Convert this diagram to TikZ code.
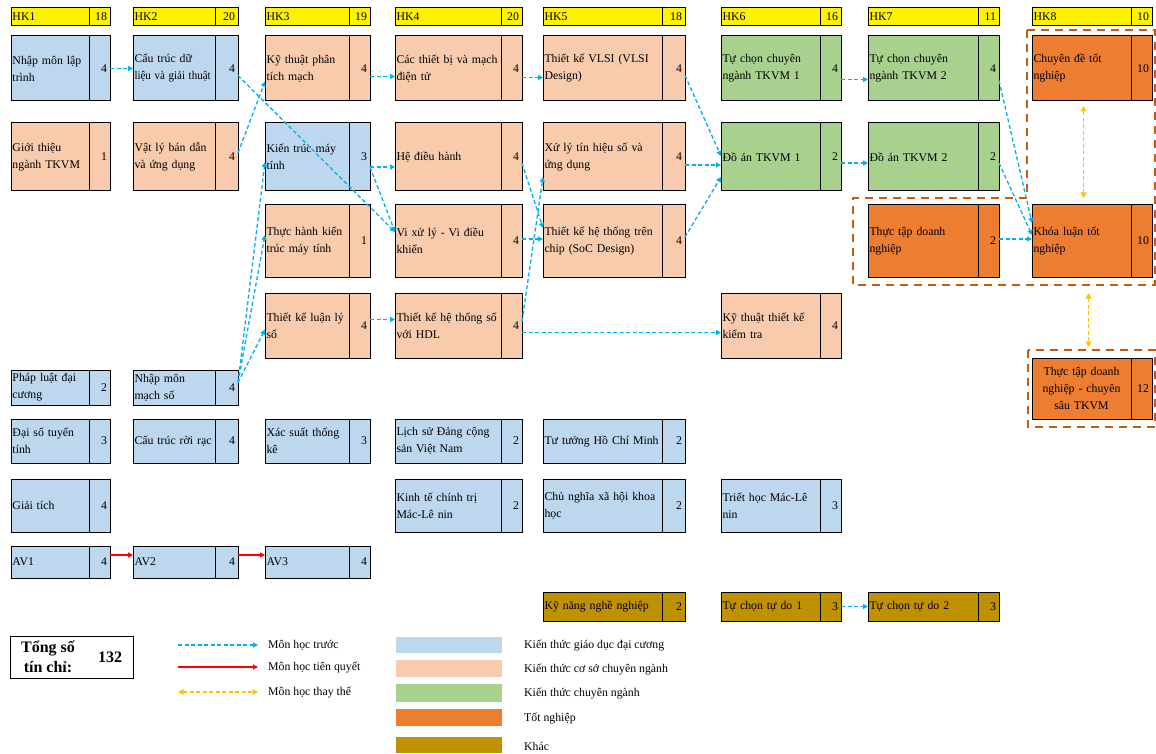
\documentclass[tikz,border=0pt]{standalone}
\usepackage{fontspec}
\setmainfont{Liberation Serif}
\usepackage{graphicx}
\usetikzlibrary{arrows.meta}
\usepackage{xcolor}

\definecolor{cgdc}{HTML}{BDD7EE}
\definecolor{ccsn}{HTML}{F8CBAD}
\definecolor{ccn}{HTML}{A9D18E}
\definecolor{ctn}{HTML}{ED7D31}
\definecolor{ckhac}{HTML}{BF9000}
\definecolor{cprev}{HTML}{00B0F0}
\definecolor{calt}{HTML}{FFC000}
\definecolor{cframe}{HTML}{C55A11}

\newcommand\cellfont{\fontsize{11.8}{17}\selectfont}

\tikzset{
  namecell/.style={draw, line width=1pt, anchor=north west, outer sep=0pt,
    inner xsep=1.5pt, inner ysep=0pt, align=left, font=\cellfont},
  numcell/.style={draw, line width=1pt, anchor=north west, outer sep=0pt,
    inner xsep=3pt, inner ysep=0pt, align=right, font=\cellfont},
  prev/.style={cprev, line width=1.3pt, dash pattern=on 4pt off 2.5pt,
    -{Triangle[length=5pt,width=5pt]}},
  preq/.style={red, line width=1.1pt, -{Triangle[length=5pt,width=5pt]}},
  alt/.style={calt, line width=1.6pt, dash pattern=on 4pt off 2.5pt,
    {Triangle[length=5.5pt,width=5.5pt]}-{Triangle[length=5.5pt,width=5.5pt]}},
  frame/.style={cframe, line width=2.5pt, dash pattern=on 8pt off 6pt},
  swatch/.style={anchor=north west, minimum width=106pt, inner sep=0pt},
  legtext/.style={anchor=west, inner sep=0pt, font=\cellfont},
}

% column edges: left, divider, right
\newcommand\setcol[4]{%
  \expandafter\def\csname cl#1\endcsname{#2}%
  \expandafter\def\csname cd#1\endcsname{#3}%
  \expandafter\def\csname cr#1\endcsname{#4}}
\setcol{1}{11}{89}{110}
\setcol{2}{133}{215}{238}
\setcol{3}{265}{349}{370}
\setcol{4}{395}{501}{522}
\setcol{5}{543}{662}{685}
\setcol{6}{721}{820}{841}
\setcol{7}{868}{978}{999}
\setcol{8}{1032}{1131}{1152}

% id, column, top, bottom, colour, text, credits
\newcommand\course[7]{%
  \pgfmathsetmacro\xl{\csname cl#2\endcsname}%
  \pgfmathsetmacro\cw{\csname cd#2\endcsname-\csname cl#2\endcsname}%
  \pgfmathsetmacro\tw{\cw-3}%
  \pgfmathsetmacro\nw{\csname cr#2\endcsname-\csname cd#2\endcsname}%
  \pgfmathsetmacro\nt{\nw-6}%
  \pgfmathsetmacro\ch{#4-#3}%
  \node[namecell, fill=#5, minimum width=\cw pt, text width=\tw pt,
    minimum height=\ch pt] (#1) at (\xl,#3) {#6};
  \node[numcell, fill=#5, minimum width=\nw pt, text width=\nt pt,
    minimum height=\ch pt] (#1-n) at (#1.north east) {#7};}

\begin{document}
\begin{tikzpicture}[x=1pt,y=-1pt]
\useasboundingbox (0,0) rectangle (1156,754);

% semester headers
\course{hk1}{1}{8}{26}{yellow}{HK1}{18}
\course{hk2}{2}{8}{26}{yellow}{HK2}{20}
\course{hk3}{3}{8}{26}{yellow}{HK3}{19}
\course{hk4}{4}{8}{26}{yellow}{HK4}{20}
\course{hk5}{5}{8}{26}{yellow}{HK5}{18}
\course{hk6}{6}{8}{26}{yellow}{HK6}{16}
\course{hk7}{7}{8}{26}{yellow}{HK7}{11}
\course{hk8}{8}{8}{26}{yellow}{HK8}{10}

% HK1
\course{nmlt}{1}{36}{101}{cgdc}{Nhập môn lập\\trình}{4}
\course{gtn}{1}{123}{191}{ccsn}{Giới thiệu\\ngành TKVM}{1}
\course{pldc}{1}{370}{405}{cgdc}{Pháp luật đại\\cương}{2}
\course{dstt}{1}{419}{463}{cgdc}{Đại số tuyến\\tính}{3}
\course{gt}{1}{479}{532}{cgdc}{Giải tích}{4}
\course{av1}{1}{546}{578}{cgdc}{AV1}{4}
% HK2
\course{ctdl}{2}{36}{101}{cgdc}{Cấu trúc dữ\\\scalebox{0.93}[1]{liệu và giải thuật}}{4}
\course{vlbd}{2}{123}{191}{ccsn}{Vật lý bán dẫn\\và ứng dụng}{4}
\course{nmms}{2}{370}{405}{cgdc}{Nhập môn\\mạch số}{4}
\course{ctrr}{2}{419}{463}{cgdc}{Cấu~trúc~rời~rạc}{4}
\course{av2}{2}{546}{578}{cgdc}{AV2}{4}
% HK3
\course{ktptm}{3}{36}{101}{ccsn}{Kỹ thuật phân\\tích mạch}{4}
\course{ktmt}{3}{123}{191}{cgdc}{Kiến trúc máy\\tính}{3}
\course{thktmt}{3}{205}{277}{ccsn}{Thực hành kiến\\trúc máy tính}{1}
\course{tklls}{3}{293}{358}{ccsn}{Thiết kế luận lý\\số}{4}
\course{xstk}{3}{419}{463}{cgdc}{Xác suất thống\\kê}{3}
\course{av3}{3}{546}{578}{cgdc}{AV3}{4}
% HK4
\course{ctbi}{4}{36}{101}{ccsn}{Các thiết bị và mạch\\điện tử}{4}
\course{hdh}{4}{123}{191}{ccsn}{Hệ điều hành}{4}
\course{vxl}{4}{205}{277}{ccsn}{Vi xử lý - Vi điều\\khiển}{4}
\course{tkhts}{4}{293}{358}{ccsn}{Thiết kế hệ thống số\\với HDL}{4}
\course{lsd}{4}{419}{463}{cgdc}{Lịch sử Đảng cộng\\sản Việt Nam}{2}
\course{ktct}{4}{479}{532}{cgdc}{Kinh tế chính trị\\Mác-Lê nin}{2}
% HK5
\course{vlsi}{5}{36}{101}{ccsn}{Thiết kế VLSI (VLSI\\Design)}{4}
\course{xlts}{5}{123}{191}{ccsn}{Xử lý tín hiệu số và\\ứng dụng}{4}
\course{soc}{5}{205}{277}{ccsn}{Thiết kế hệ thống trên\\chip (SoC Design)}{4}
\course{tthcm}{5}{419}{463}{cgdc}{Tư tưởng Hồ Chí Minh}{2}
\course{cnxh}{5}{479}{532}{cgdc}{Chủ nghĩa xã hội khoa\\học}{2}
\course{knnn}{5}{592}{621}{ckhac}{Kỹ năng nghề nghiệp}{2}
% HK6
\course{tccn1}{6}{36}{101}{ccn}{Tự chọn chuyên\\ngành TKVM 1}{4}
\course{da1}{6}{123}{191}{ccn}{Đồ án TKVM 1}{2}
\course{kttk}{6}{293}{358}{ccsn}{Kỹ thuật thiết kế\\kiểm tra}{4}
\course{thml}{6}{479}{532}{cgdc}{Triết học Mác-Lê\\nin}{3}
\course{tctd1}{6}{592}{621}{ckhac}{Tự chọn tự do 1}{3}
% HK7
\course{tccn2}{7}{36}{101}{ccn}{Tự chọn chuyên\\ngành TKVM 2}{4}
\course{da2}{7}{123}{191}{ccn}{Đồ án TKVM 2}{2}
\course{ttdn}{7}{205}{277}{ctn}{Thực tập doanh\\nghiệp}{2}
\course{tctd2}{7}{592}{621}{ckhac}{Tự chọn tự do 2}{3}
% HK8
\course{cdtn}{8}{36}{101}{ctn}{Chuyên đề tốt\\nghiệp}{10}
\course{kltn}{8}{205}{277}{ctn}{Khóa luận tốt\\nghiệp}{10}
\node[namecell, fill=ctn, minimum width=99pt, text width=96pt, minimum height=61pt,
  align=center] (ttcs) at (1032,358) {Thực tập doanh\\nghiệp - chuyên\\sâu TKVM};
\node[numcell, fill=ctn, minimum width=21pt, text width=15pt, minimum height=61pt]
  (ttcs-n) at (ttcs.north east) {12};

% graduation options
\draw[frame] (1027,30) -- (1155,30) -- (1155,285) -- (853,285) -- (853,198)
  -- (1027,198) -- cycle;
\draw[frame] (1028,350) rectangle (1155,427);

% prerequisites
\draw[prev] (nmlt-n.east) -- (ctdl.west);
\draw[prev] ([yshift=-7pt]ctdl-n.east) -- ([yshift=9pt]vxl.west);
\draw[prev] ([yshift=4pt]vlbd-n.east) -- ([yshift=-13pt]ktptm.west);
\draw[prev] ([yshift=-8pt]ktptm-n.east) -- ([yshift=-8pt]ctbi.west);
\draw[prev] ([yshift=-9pt]ctbi-n.east) -- ([yshift=-9pt]vlsi.west);
\draw[prev] ([yshift=-10pt]ktmt-n.east) -- ([yshift=-10pt]hdh.west);
\draw[prev] ([yshift=-10pt]ktmt-n.east) -- ([yshift=9pt]vxl.west);
\draw[prev] ([yshift=5pt]nmms-n.east) -- ([yshift=-5pt]ktmt.west);
\draw[prev] ([yshift=5pt]nmms-n.east) -- ([yshift=6pt]thktmt.west);
\draw[prev] ([yshift=5pt]nmms-n.east) -- ([yshift=-4pt]tklls.west);
\draw[prev] ([yshift=6pt]tklls-n.east) -- ([yshift=6pt]tkhts.west);
\draw[prev] ([yshift=-6pt]hdh-n.east) -- ([yshift=13pt]soc.west);
\draw[prev] ([yshift=2pt]vxl-n.east) -- ([yshift=2pt]soc.west);
\draw[prev] ([yshift=4pt]tkhts-n.east) -- ([yshift=-20pt]xlts.west);
\draw[prev] ([yshift=-7pt]tkhts-n.east) -- ([yshift=-7pt]kttk.west);
\draw[prev] ([yshift=-7pt]vlsi-n.east) -- ([yshift=1pt]da1.west);
\draw[prev] ([yshift=-8pt]xlts-n.east) -- ([yshift=-8pt]da1.west);
\draw[prev] ([yshift=4pt]soc-n.east) -- ([yshift=-20pt]da1.west);
\draw[prev] ([yshift=-11pt]tccn1-n.east) -- ([yshift=-11pt]tccn2.west);
\draw[prev] ([yshift=-6pt]da1-n.east) -- ([yshift=-6pt]da2.west);
\draw[prev] ([yshift=-12pt]tccn2-n.east) -- ([yshift=18pt]kltn.west);
\draw[prev] ([yshift=-6pt]da2-n.east) -- ([yshift=6pt]kltn.west);
\draw[prev] ([yshift=2pt]ttdn-n.east) -- ([yshift=2pt]kltn.west);
\draw[prev] (tctd1-n.east) -- (tctd2.west);
\draw[preq] ([yshift=7pt]av1-n.east) -- ([yshift=7pt]av2.west);
\draw[preq] ([yshift=7pt]av2-n.east) -- ([yshift=7pt]av3.west);
\draw[alt] ([xshift=2pt,yshift=-5pt]cdtn.south) -- ([xshift=2pt,yshift=7pt]kltn.north);
\draw[alt] ([xshift=7pt,yshift=-16pt]kltn.south) -- ([xshift=7pt,yshift=11pt]ttcs.north);

% legend
\node[draw, line width=1pt, anchor=north west, minimum width=123pt, minimum height=42pt,
  inner sep=0pt] (tong) at (10,636) {};
\node[font=\bfseries\fontsize{16}{19.5}\selectfont, align=center, inner sep=0pt]
  (tongtxt) at (48,657) {Tổng số\\tín chỉ:};
\node[font=\bfseries\fontsize{16}{19.5}\selectfont, inner sep=0pt] (tongso) at (110,657) {132};

\coordinate (lpA) at (178,645); \coordinate (lpB) at (258,645);
\coordinate (lqA) at (178,667); \coordinate (lqB) at (258,667);
\coordinate (laA) at (178,692); \coordinate (laB) at (258,692);
\draw[prev] (lpA) -- (lpB);
\draw[preq] (lqA) -- (lqB);
\draw[alt] (laA) -- (laB);
\node[legtext] (lpT) at (268,645) {Môn học trước};
\node[legtext] (lqT) at (268,667) {Môn học tiên quyết};
\node[legtext] (laT) at (268,692) {Môn học thay thế};

\node[swatch, fill=cgdc, minimum height=16pt] (sw1) at (396,637) {};
\node[swatch, fill=ccsn, minimum height=17pt] (sw2) at (396,660) {};
\node[swatch, fill=ccn, minimum height=18pt] (sw3) at (396,684) {};
\node[swatch, fill=ctn, minimum height=17pt] (sw4) at (396,709) {};
\node[swatch, fill=ckhac, minimum height=16pt] (sw5) at (396,737) {};
\node[legtext] (sw1T) at (524,645) {Kiến thức giáo dục đại cương};
\node[legtext] (sw2T) at (524,669) {Kiến thức cơ sở chuyên ngành};
\node[legtext] (sw3T) at (524,693) {Kiến thức chuyên ngành};
\node[legtext] (sw4T) at (524,718) {Tốt nghiệp};
\node[legtext] (sw5T) at (524,746) {Khác};
\end{tikzpicture}
\end{document}
